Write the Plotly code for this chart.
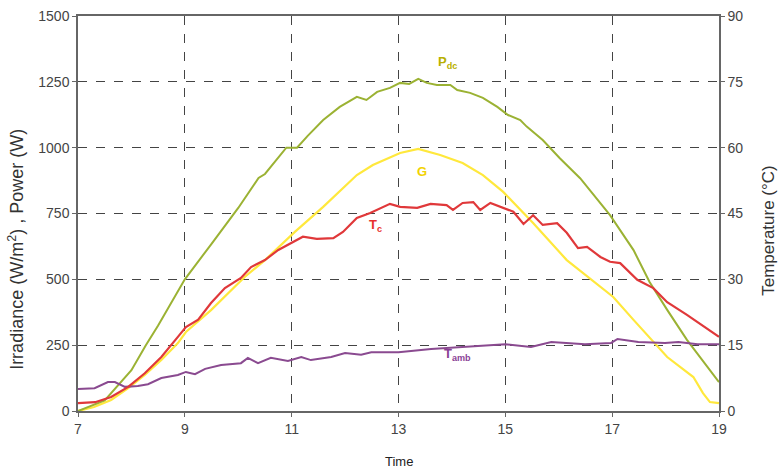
import plotly.graph_objects as go

# Time (h)
t_pdc = [7.0, 7.5, 8.0, 8.27, 8.5, 9.0, 9.5, 9.92, 10.0, 10.38, 10.5, 10.9, 11.0, 11.1, 11.3, 11.59, 11.9,
         12.22, 12.4, 12.6, 12.84, 13.03, 13.2, 13.37, 13.53, 13.72, 13.97, 14.1, 14.34, 14.58, 14.85,
         15.05, 15.28, 15.4, 15.7, 16.02, 16.4, 16.96, 17.4, 17.7, 18.03, 18.4, 19.0]
pdc = [0, 40, 155, 250, 325, 500, 635, 750, 771, 885, 900, 1000, 1000, 1000, 1045, 1105, 1155,
       1193, 1181, 1212, 1227, 1246, 1242, 1261, 1246, 1238, 1238, 1219, 1208, 1189, 1155,
       1124, 1105, 1080, 1029, 960, 884, 744, 611, 490, 384, 270, 110]

t_g = [7.0, 7.3, 7.62, 7.94, 8.25, 8.56, 8.87, 9.02, 9.49, 10.12, 10.5, 11.06, 11.59, 12.22, 12.52,
       13.03, 13.37, 13.78, 14.2, 14.58, 14.96, 15.52, 16.15, 16.78, 17.02, 17.4, 18.03, 18.52,
       18.7, 18.83, 19.0]
g = [0, 15, 42, 87, 137, 194, 258, 300, 383, 509, 573, 680, 775, 896, 934,
     980, 995, 972, 942, 896, 832, 714, 573, 471, 433, 346, 205, 129,
     68, 34, 30]

t_tc = [7.0, 7.32, 7.62, 7.94, 8.25, 8.56, 8.87, 9.02, 9.25, 9.49, 9.75, 10.05, 10.24, 10.5, 10.75,
        11.06, 11.21, 11.47, 11.78, 11.96, 12.22, 12.47, 12.84, 13.03, 13.35, 13.6, 13.9, 14.02,
        14.2, 14.4, 14.53, 14.72, 14.9, 15.15, 15.34, 15.52, 15.7, 15.97, 16.15, 16.36, 16.53,
        16.78, 16.96, 17.15, 17.47, 17.77, 18.03, 18.4, 19.0]
tc = [1.8, 2.0, 3.2, 5.5, 8.6, 12.3, 16.9, 19.1, 20.8, 24.6, 28.0, 30.3, 32.8, 34.4, 36.7,
      38.6, 39.7, 39.2, 39.4, 40.8, 44.0, 45.1, 47.2, 46.5, 46.3, 47.2, 46.9, 45.8,
      47.4, 47.6, 45.8, 47.4, 46.5, 45.4, 42.6, 44.6, 42.4, 42.8, 40.6, 37.1, 37.4,
      35.1, 34.0, 33.7, 29.9, 28.0, 24.8, 21.9, 16.9]

t_ta = [7.0, 7.31, 7.56, 7.69, 7.88, 8.12, 8.31, 8.56, 8.87, 9.02, 9.19, 9.38, 9.68, 10.05, 10.18,
        10.37, 10.61, 10.93, 11.18, 11.36, 11.74, 12.0, 12.3, 12.49, 12.86, 13.0, 13.61, 14.25,
        15.0, 15.48, 15.86, 16.49, 16.98, 17.1, 17.49, 17.99, 18.24, 18.6, 19.0]
tamb = [5.0, 5.2, 6.6, 6.6, 5.5, 5.7, 6.1, 7.5, 8.2, 8.9, 8.4, 9.6, 10.5, 10.9, 12.1,
        10.9, 12.1, 11.4, 12.3, 11.6, 12.3, 13.2, 12.8, 13.4, 13.4, 13.4, 14.1, 14.6,
        15.2, 14.6, 15.7, 15.2, 15.5, 16.4, 15.7, 15.5, 15.7, 15.2, 15.2]

x_ticks = [7, 9, 11, 13, 15, 17, 19]
y_ticks = [0, 250, 500, 750, 1000, 1250, 1500]
y2_ticks = [0, 15, 30, 45, 60, 75, 90]

c_pdc = "#9bb233"
c_g = "#ffe83c"
c_tc = "#e0383a"
c_ta = "#8a4a90"

fig = go.Figure()
fig.add_trace(go.Scatter(x=t_g, y=g, mode="lines", line=dict(color=c_g, width=2.2), showlegend=False))
fig.add_trace(go.Scatter(x=t_pdc, y=pdc, mode="lines", line=dict(color=c_pdc, width=2), showlegend=False))
fig.add_trace(go.Scatter(x=t_ta, y=tamb, mode="lines", yaxis="y2", line=dict(color=c_ta, width=2), showlegend=False))
fig.add_trace(go.Scatter(x=t_tc, y=tc, mode="lines", yaxis="y2", line=dict(color=c_tc, width=2.2), showlegend=False))

font = "Liberation Sans, Arial, sans-serif"
ann = [
    dict(x=13.91, y=1325, text="P<sub>dc</sub>", color="#b8b000"),
    dict(x=13.44, y=908, text="G", color="#f2d200"),
    dict(x=12.56, y=706, text="T<sub>c</sub>", color="#e8302e"),
    dict(x=14.1, y=213, text="T<sub>amb</sub>", color="#8a3f96"),
]
for a in ann:
    fig.add_annotation(x=a["x"], y=a["y"], xref="x", yref="y", text="<b>" + a["text"] + "</b>",
                       showarrow=False, font=dict(family=font, size=13, color=a["color"]))

# axis titles
fig.add_annotation(x=-0.097, y=0.41, xref="paper", yref="paper", textangle=-90, showarrow=False,
                   xanchor="center", yanchor="middle",
                   text="Irradiance (W/m<sup>2</sup>) , Power (W)", font=dict(family=font, size=18, color="#333"))
fig.add_annotation(x=1.076, y=0.458, xref="paper", yref="paper", textangle=-90, showarrow=False,
                   xanchor="center", yanchor="middle",
                   text="Temperature (°C)", font=dict(family=font, size=17, color="#333"))
fig.add_annotation(x=0.5, y=-0.127, xref="paper", yref="paper", showarrow=False,
                   xanchor="center", yanchor="middle",
                   text="Time", font=dict(family=font, size=13, color="#222"))

fig.update_layout(
    width=779, height=472,
    margin=dict(l=78, r=60, t=16, b=61, autoexpand=False),
    paper_bgcolor="white", plot_bgcolor="white",
    font=dict(family=font, size=14, color="#444"),
    xaxis=dict(range=[7, 19], tickvals=x_ticks, showgrid=True, gridcolor="#444", griddash="dash",
               gridwidth=1, showline=True, linecolor="#666", linewidth=1.5, mirror=True,
               ticks="outside", ticklen=4, tickcolor="#666", zeroline=False, automargin=False),
    yaxis=dict(range=[0, 1500], tickvals=y_ticks, showgrid=True, gridcolor="#444", griddash="dash",
               gridwidth=1, showline=True, linecolor="#666", linewidth=1.5, automargin=False,
               ticks="outside", ticklen=4, tickcolor="#666", zeroline=False),
    yaxis2=dict(range=[0, 90], tickvals=y2_ticks, overlaying="y", side="right", showgrid=False,
                showline=True, linecolor="#666", linewidth=1.5, ticks="outside", ticklen=4,
                tickcolor="#666", zeroline=False, automargin=False),
)

fig.write_html("out.html", config={"displayModeBar": False},
               post_script="document.body.style.margin='0';document.body.style.overflow='hidden';")
